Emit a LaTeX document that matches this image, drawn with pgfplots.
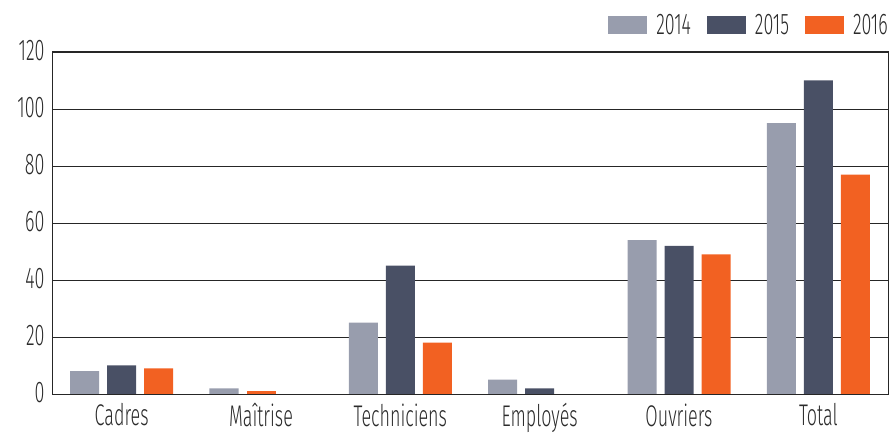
\documentclass[border=0pt]{standalone}
\usepackage{fontspec}
\setmainfont{Fira Sans Light}[FakeStretch=0.6]
\usepackage{pgfplots}
\usepackage{pgfplotstable}
\pgfplotsset{compat=1.18}
\definecolor{c14}{HTML}{989DAD}
\definecolor{c15}{HTML}{495065}
\definecolor{c16}{HTML}{F26122}
\definecolor{txt}{HTML}{2B2B2B}
\pgfplotstableread{
x y14 y15 y16
0 8 10 9
1 2 0 0
2 25 45 18
3 5 2 0
4 54 52 49
5 95 110 77
}\data
\begin{document}
\begin{tikzpicture}
\begin{axis}[
  scale only axis,
  width=836bp, height=342bp,
  xmin=-0.5, xmax=5.5,
  ymin=0, ymax=120,
  ytick={0,20,...,120},
  xtick={0,1,2,3,4,5},
  xticklabels={Cadres,Maîtrise,Techniciens,Employés,Ouvriers,Total},
  major tick length=0pt,
  ymajorgrids,
  grid style={color=black!85, line width=0.8bp},
  axis line style={color=black!85, line width=1bp},
  axis on top=false,
  font=\fontsize{30}{34}\selectfont,
  tick label style={color=txt},
  /pgf/number format/assume math mode=true,
  xticklabel style={yshift=-6bp},
  yticklabel style={xshift=-4bp, yshift=1bp},
  ybar, bar width=29bp,
  legend style={at={(1,1)}, anchor=south east, yshift=16bp, xshift=0bp,
    draw=none, fill=none, inner sep=0pt,
    nodes={inner sep=0pt, text=txt},
    /tikz/every odd column/.append style={column sep=9bp},
    /tikz/every even column/.append style={column sep=16bp}},
  legend columns=3,
  legend image code/.code={\path[#1,draw=none] (0bp,-9bp) rectangle (39bp,9bp);},
]
\addplot[fill=c14, draw=none, bar shift=-37bp] table[x=x, y=y14] {\data};
\addplot[fill=c15, draw=none, bar shift=0bp] table[x=x, y=y15] {\data};
\addplot[fill=c16, draw=none, bar shift=37bp] table[x=x, y=y16] {\data};
\addplot[fill=c16, draw=none, bar shift=0bp, forget plot] coordinates {(1,1)};
\legend{2014,2015,2016}
\end{axis}
\pgfresetboundingbox
\path (-52bp,-40bp) rectangle (842bp,394bp);
\end{tikzpicture}
\end{document}
